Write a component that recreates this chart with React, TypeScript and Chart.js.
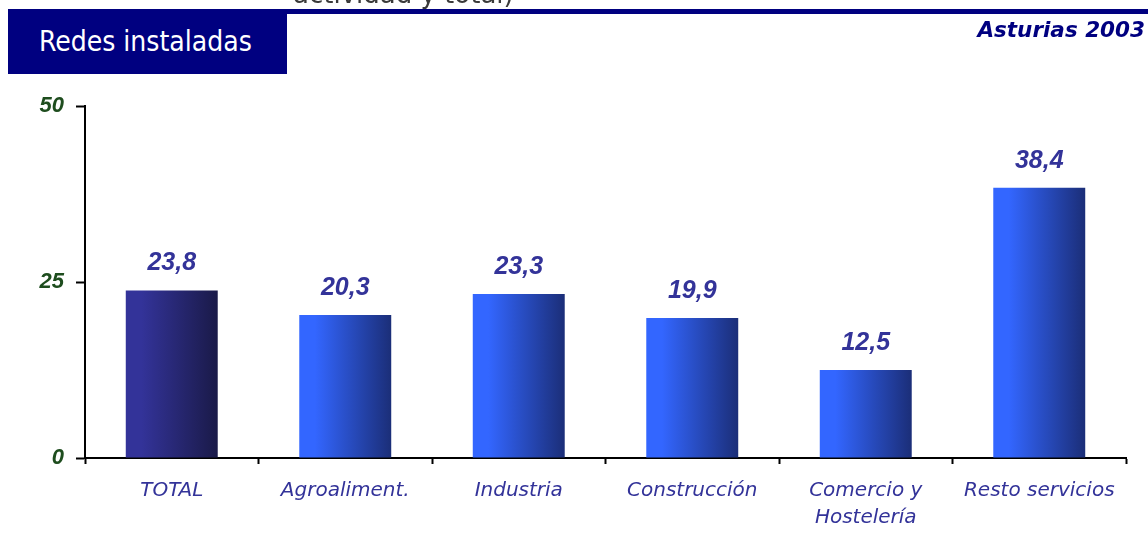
import React, { useEffect, useRef } from "react";
import { Chart, registerables } from "chart.js";

Chart.register(...registerables);

const categories: (string | string[])[] = [
  "TOTAL",
  "Agroaliment.",
  "Industria",
  "Construcción",
  ["Comercio y", "Hostelería"],
  "Resto servicios",
];
const values: number[] = [23.8, 20.3, 23.3, 19.9, 12.5, 38.4];
const yTicks: number[] = [0, 25, 50];
const headerTitle = "Redes instaladas";
const regionLabel = "Asturias 2003";
const cutSubtitle = "actividad y total)";

const COND_FONT = '"DejaVu Sans Condensed", "DejaVu Sans", sans-serif';
const WIDE_FONT = '"DejaVu Sans", sans-serif';
const NUM_FONT = '"Liberation Sans", Arial, sans-serif';

const valueLabelPlugin = {
  id: "valueLabels",
  afterDatasetsDraw(chart: any) {
    const ctx = chart.ctx;
    const meta = chart.getDatasetMeta(0);
    ctx.save();
    ctx.font = `italic bold 25px ${NUM_FONT}`;
    ctx.fillStyle = "#333399";
    ctx.textAlign = "center";
    ctx.textBaseline = "alphabetic";
    meta.data.forEach((el: any, i: number) => {
      const txt = values[i].toFixed(1).replace(".", ",");
      ctx.fillText(txt, el.x, el.y - 20);
    });
    ctx.restore();
  },
};

export default function App() {
  const ref = useRef<HTMLCanvasElement | null>(null);

  useEffect(() => {
    if (!ref.current) return;
    const chart = new Chart(ref.current, {
      type: "bar",
      data: {
        labels: categories as any,
        datasets: [
          {
            data: values,
            barPercentage: 0.53,
            categoryPercentage: 1,
            borderWidth: 0,
            backgroundColor: (c: any) => {
              const ch = c.chart;
              const isTotal = c.dataIndex === 0;
              const base = isTotal ? "#333399" : "#3366ff";
              if (c.type !== "data" || !ch.chartArea || !ch.scales.x) return base;
              const sx = ch.scales.x;
              const cx = sx.getPixelForValue(c.dataIndex);
              const w = (sx.width / categories.length) * 0.53;
              const g = ch.ctx.createLinearGradient(cx - w / 2, 0, cx + w / 2, 0);
              if (isTotal) {
                g.addColorStop(0, "#333399");
                g.addColorStop(0.17, "#333399");
                g.addColorStop(1, "#1a1a48");
              } else {
                g.addColorStop(0, "#3366ff");
                g.addColorStop(0.17, "#3366ff");
                g.addColorStop(1, "#1b2e78");
              }
              return g;
            },
          },
        ],
      },
      options: {
        animation: false,
        responsive: false,
        maintainAspectRatio: false,
        layout: { padding: { top: 106, right: 22, left: 0, bottom: 0 } },
        plugins: {
          legend: { display: false },
          tooltip: { enabled: false },
          title: { display: false },
        },
        scales: {
          x: {
            offset: true,
            grid: {
              display: true,
              drawOnChartArea: false,
              drawTicks: true,
              tickLength: 6,
              tickWidth: 2,
              tickColor: "#000000",
              offset: true,
            },
            border: { display: true, color: "#000000", width: 2 },
            ticks: {
              autoSkip: false,
              maxRotation: 0,
              minRotation: 0,
              padding: 13,
              color: "#333399",
              font: { family: WIDE_FONT, size: 20, style: "italic", lineHeight: 1.35 },
            },
            afterFit: (s: any) => {
              s.height = 99;
            },
          },
          y: {
            min: 0,
            max: 50,
            afterBuildTicks: (s: any) => {
              s.ticks = yTicks.map((v) => ({ value: v }));
            },
            grid: {
              display: true,
              drawOnChartArea: false,
              drawTicks: true,
              tickLength: 9,
              tickWidth: 2,
              tickColor: "#000000",
            },
            border: { display: true, color: "#000000", width: 2 },
            ticks: {
              padding: 12,
              color: "#1e4d1e",
              font: { family: NUM_FONT, size: 22, style: "italic", weight: "bold" },
            },
            afterFit: (s: any) => {
              s.width = 85;
            },
          },
        },
      },
      plugins: [valueLabelPlugin],
    });
    return () => chart.destroy();
  }, []);

  return (
    <div style={{ position: "absolute", left: 0, top: 0, width: 1148, height: 557, overflow: "hidden", background: "#ffffff" }}>
      <canvas ref={ref} width={1148} height={557} style={{ position: "absolute", left: 0, top: 0, width: 1148, height: 557 }} />
      <div
        style={{
          position: "absolute",
          left: 293,
          top: -19,
          fontFamily: WIDE_FONT,
          fontSize: 26,
          lineHeight: 1,
          color: "#3a3a3a",
          whiteSpace: "nowrap",
        }}
      >
        {cutSubtitle}
      </div>
      <div style={{ position: "absolute", left: 8, top: 9, width: 1140, height: 5, background: "#000080" }} />
      <div style={{ position: "absolute", left: 8, top: 9, width: 279, height: 65, background: "#000080" }} />
      <div
        style={{
          position: "absolute",
          left: 39,
          top: 28,
          fontFamily: COND_FONT,
          fontSize: 28,
          lineHeight: 1,
          color: "#ffffff",
          whiteSpace: "nowrap",
        }}
      >
        {headerTitle}
      </div>
      <div
        style={{
          position: "absolute",
          right: 3,
          top: 19,
          fontFamily: WIDE_FONT,
          fontSize: 21.5,
          fontStyle: "italic",
          fontWeight: "bold",
          lineHeight: 1,
          color: "#000080",
          whiteSpace: "nowrap",
        }}
      >
        {regionLabel}
      </div>
    </div>
  );
}
